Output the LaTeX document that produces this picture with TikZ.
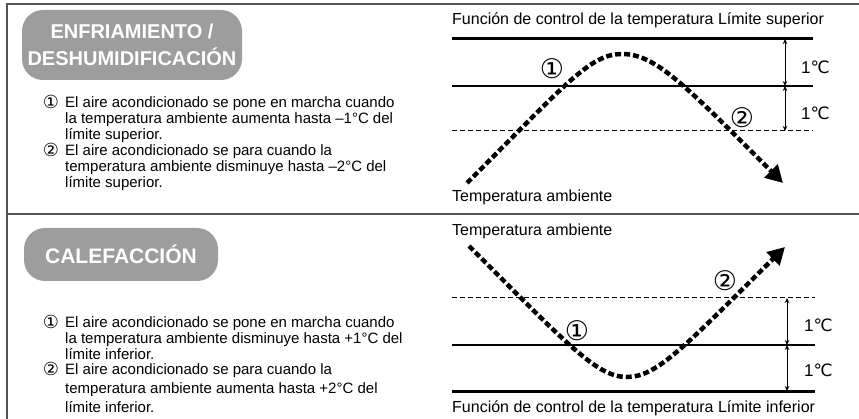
\documentclass[tikz,border=0pt]{standalone}
\usepackage{fontspec}
\setmainfont{Liberation Sans}
\newfontfamily\symfont{DejaVu Sans}
\usetikzlibrary{arrows.meta, positioning}
\definecolor{pillgray}{HTML}{9D9D9D}
\definecolor{framegray}{HTML}{555555}
\tikzstyle{frame}     = [framegray, line width=1.3pt]
\tikzstyle{pill}      = [fill=pillgray, rounded corners=21pt, text=white, inner sep=0pt, align=center, font=\bfseries\fontsize{20}{27}\selectfont]
\tikzstyle{listtext}  = [anchor=north west, inner sep=0pt, align=left, font=\fontsize{15}{16}\selectfont]
\tikzstyle{listnum}   = [inner sep=0pt, font=\symfont\fontsize{18}{18}\selectfont]
\tikzstyle{chartnum}  = [inner sep=0pt, font=\symfont\fontsize{27}{27}\selectfont]
\tikzstyle{chartlabel}= [anchor=base west, inner sep=0pt, font=\fontsize{16}{16}\selectfont]
\tikzstyle{degtext}   = [anchor=west, inner sep=0pt, font=\fontsize{17}{17}\selectfont]
\tikzstyle{limitline} = [line width=3pt]
\tikzstyle{setline}   = [line width=1.1pt]
\tikzstyle{dashline}  = [line width=1pt, dash pattern=on 5pt off 3pt]
\tikzstyle{span}      = [line width=0.9pt, {Stealth[length=5pt,width=4.5pt]}-{Stealth[length=5pt,width=4.5pt]}]
\tikzstyle{trend}     = [line width=4.5pt, dash pattern=on 6pt off 3pt, -{Triangle[length=17pt,width=18pt]}]

\begin{document}
\begin{tikzpicture}[x=1pt, y=-1pt]
\useasboundingbox (0,0) rectangle (859,419);

% marco
\draw[frame] (859,4) -- (7,4) -- (7,419);
\draw[frame] (7,214) -- (859,214);

% modos
\node[pill, minimum width=220pt, minimum height=70pt] (cool) at (132,45) {ENFRIAMIENTO /\\DESHUMIDIFICACIÓN};
\node[pill, minimum width=194pt, minimum height=53pt] (heat) at (121,254.5) {\fontsize{21}{21}\selectfont CALEFACCIÓN};

% explicaciones, enfriamiento
\node[listnum]  (c1n) at (51,102) {①};
\node[listtext] (c1)  at (65,96) {El aire acondicionado se pone en marcha cuando\\la temperatura ambiente aumenta hasta –1°C del\\límite superior.};
\node[listnum]  (c2n) at (51,150) {②};
\node[listtext] (c2)  at (65,144) {El aire acondicionado se para cuando la\\temperatura ambiente disminuye hasta –2°C del\\límite superior.};

% explicaciones, calefacción
\node[listnum]  (h1n) at (51,322) {①};
\node[listtext] (h1)  at (65,316) {El aire acondicionado se pone en marcha cuando\\la temperatura ambiente disminuye hasta +1°C del\\límite inferior.};
\node[listnum]  (h2n) at (51,369) {②};
\node[listtext] (h2)  at (65,363) {El aire acondicionado se para cuando la\\[3pt]temperatura ambiente aumenta hasta +2°C del\\[3pt]límite inferior.};

% gráfico superior
\node[chartlabel] (utitle) at (452,25) {Función de control de la temperatura Límite superior};
\node[chartlabel] (uamb)   at (452,202) {Temperatura ambiente};
\coordinate (ul1) at (452,39);  \coordinate (ul2) at (813,39);
\coordinate (us1) at (452,86);  \coordinate (us2) at (813,86);
\coordinate (ud1) at (452,131); \coordinate (ud2) at (813,131);
\draw[limitline] (ul1) -- (ul2);
\draw[setline]   (us1) -- (us2);
\draw[dashline]  (ud1) -- (ud2);
\coordinate (ua) at (785,39); \coordinate (ub) at (785,86); \coordinate (uc) at (785,131);
\draw[span] (ua) -- (ub);
\draw[span] (ub) -- (uc);
\node[degtext] (udeg1) at (801,67)  {1{\symfont ℃}};
\node[degtext] (udeg2) at (801,113) {1{\symfont ℃}};
\coordinate (ustart) at (467,183);
\coordinate (utop)   at (622,54);
\coordinate (uend)   at (783,183);
\draw[trend] (ustart) .. controls (567,83) and (590,54) .. (utop)
                      .. controls (655,54) and (683,83) .. (uend);
\node[chartnum] (un1) at (552,69)  {①};
\node[chartnum] (un2) at (742,118) {②};

% gráfico inferior
\node[chartlabel] (lamb)   at (452,236) {Temperatura ambiente};
\node[chartlabel] (ltitle) at (452,412) {Función de control de la temperatura Límite inferior};
\coordinate (ld1) at (452,298); \coordinate (ld2) at (815,298);
\coordinate (ls1) at (452,345); \coordinate (ls2) at (815,345);
\coordinate (ll1) at (452,391); \coordinate (ll2) at (815,391);
\draw[dashline]  (ld1) -- (ld2);
\draw[setline]   (ls1) -- (ls2);
\draw[limitline] (ll1) -- (ll2);
\coordinate (la) at (787,298); \coordinate (lb) at (787,345); \coordinate (lc) at (787,391);
\draw[span] (la) -- (lb);
\draw[span] (lb) -- (lc);
\node[degtext] (ldeg1) at (804,325) {1{\symfont ℃}};
\node[degtext] (ldeg2) at (804,370) {1{\symfont ℃}};
\coordinate (lstart) at (469,246);
\coordinate (lbot)   at (627,377);
\coordinate (lend)   at (785,247);
\draw[trend] (lstart) .. controls (569,346) and (597,377) .. (lbot)
                      .. controls (657,377) and (685,346) .. (lend);
\node[chartnum] (ln1) at (577,331) {①};
\node[chartnum] (ln2) at (725,281) {②};

\end{tikzpicture}
\end{document}
